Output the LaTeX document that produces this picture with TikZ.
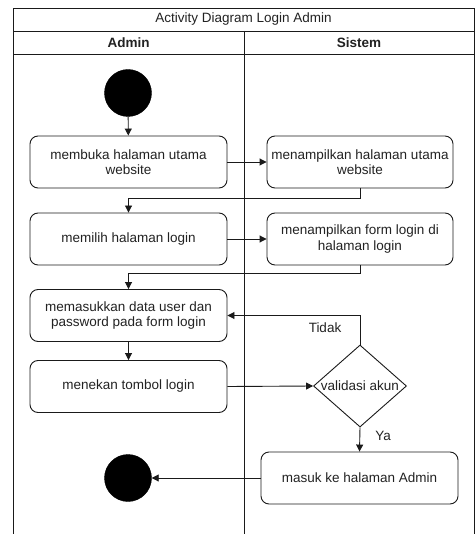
\documentclass[tikz,border=0pt]{standalone}
\usepackage{fontspec}
\setmainfont{Liberation Sans}
\usetikzlibrary{arrows.meta,shapes.geometric}
\definecolor{ink}{HTML}{1A1A1A}
\definecolor{txt}{HTML}{222222}
\begin{document}
\begin{tikzpicture}[x=1pt,y=-1pt,
  font=\fontsize{13.5}{15.5}\selectfont,
  every node/.style={text=txt},
  frame/.style={draw=ink,line width=0.9pt},
  act/.style={draw=ink,line width=0.9pt,rounded corners=8pt,
    minimum width=197pt,minimum height=52pt,align=center,inner sep=2pt},
  act2/.style={act,minimum width=186pt},
  dot/.style={circle,fill=black,draw=black,minimum size=47pt,inner sep=0pt},
  decision/.style={diamond,draw=ink,line width=0.9pt,minimum width=93pt,
    minimum height=82pt,inner sep=0pt},
  arr/.style={draw=ink,line width=0.9pt,-{Triangle[length=7pt,width=7pt]}},
  lane/.style={font=\fontsize{13.5}{15.5}\selectfont\bfseries}]
\useasboundingbox (0,0) rectangle (475,534);
\fill[white] (0,0) rectangle (475,534);

% swimlane frame
\draw[frame] (13,534) -- (13,8) -- (474,8) -- (474,534);
\draw[frame] (13,31) -- (474,31);
\draw[frame] (13,54) -- (474,54);
\draw[frame] (244,31) -- (244,534);
\node (title) at (243.5,19.5) {Activity Diagram Login Admin};
\node[lane] (laneA) at (128.5,42.5) {Admin};
\node[lane] (laneS) at (359,42.5) {Sistem};

% activities
\node[dot] (start) at (128,93) {};
\node[act] (b1) at (128.5,162) {membuka halaman utama\\website};
\node[act2] (b2) at (360,162) {menampilkan halaman utama\\website};
\node[act] (b3) at (128.5,239) {memilih halaman login};
\node[act2] (b4) at (360,239) {menampilkan form login di\\halaman login};
\node[act] (b5) at (128.5,315.5) {memasukkan data user dan\\password pada form login};
\node[act] (b6) at (128.5,386.5) {menekan tombol login};
\node[decision] (dec) at (360,386) {};
\node (dectext) at (dec.center) {validasi akun};
\node[act] (b7) at (359.5,478) {masuk ke halaman Admin};
\node[dot] (end) at (128,478) {};

% flow
\draw[arr] (start) -- (b1);
\draw[arr] (b1.east) -- (b2.west);
\draw[arr] (b2.south) -- ++(0,10) -| (b3.north);
\draw[arr] (b3.east) -- (b4.west);
\draw[arr] (b4.south) -- ++(0,8) -| (b5.north);
\draw[arr] (b5.south) -- (b6.north);
\draw[arr] (b6.east) -- (dec.west);
\draw[arr] (dec.north) |- (b5.east);
\node (tidak) at (325,328) {Tidak};
\draw[arr] (dec.south) -- (b7.north);
\node (ya) at (383,436) {Ya};
\draw[arr] (b7.west) -- (end.east);
\end{tikzpicture}
\end{document}
